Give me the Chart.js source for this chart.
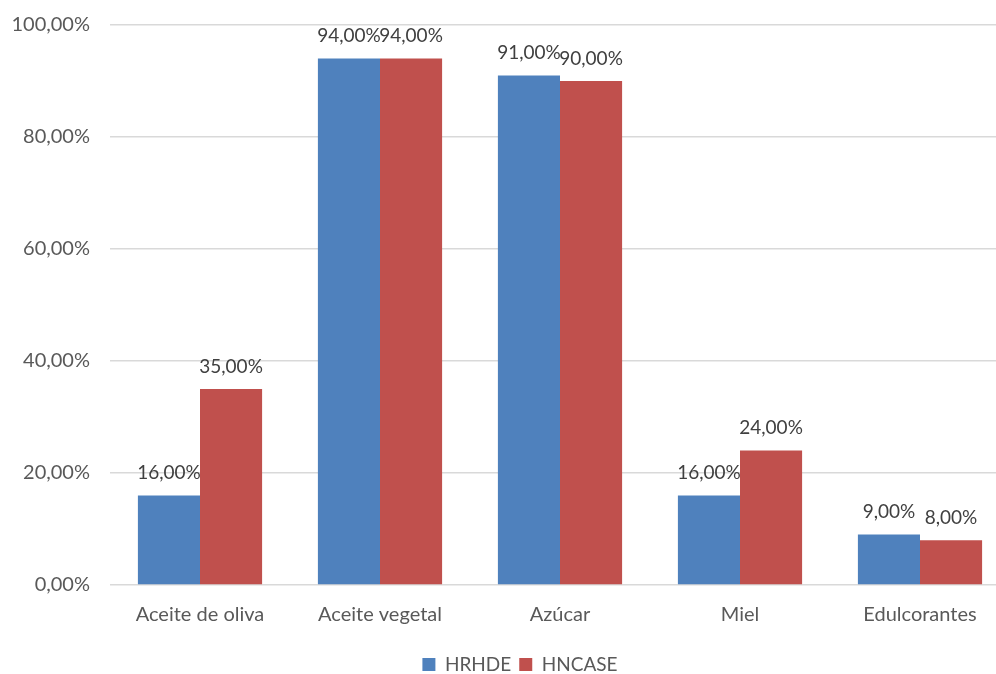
<!DOCTYPE html>
<html>
<head>
<meta charset="utf-8">
<script src="https://cdn.jsdelivr.net/npm/chart.js@4/dist/chart.umd.min.js"></script>
<style>
  html, body { margin: 0; padding: 0; background: #fff; overflow: hidden; }
  #wrap { width: 1010px; height: 674px; position: relative; }
</style>
</head>
<body>
<div id="wrap"><canvas id="c"></canvas></div>
<script>
const categories = ['Aceite de oliva', 'Aceite vegetal', 'Azúcar', 'Miel', 'Edulcorantes'];
const hrhde = [16, 94, 91, 16, 9];
const hncase = [35, 94, 90, 24, 8];
const yTicks = [0, 20, 40, 60, 80, 100];

const FONT = 'Lato, "Open Sans", sans-serif';
const pct = v => v.toFixed(2).replace('.', ',') + '%';

// Value labels written above each bar
const barLabels = {
  id: 'barLabels',
  afterDatasetsDraw(chart) {
    const ctx = chart.ctx;
    ctx.save();
    ctx.font = '19px ' + FONT;
    ctx.fillStyle = '#404040';
    ctx.textAlign = 'center';
    ctx.textBaseline = 'bottom';
    chart.data.datasets.forEach((ds, i) => {
      chart.getDatasetMeta(i).data.forEach((bar, j) => {
        ctx.fillText(pct(ds.data[j]), bar.x, bar.y - 13);
      });
    });
    ctx.restore();
  }
};

// Nudge the legend row to sit lower and slightly right of centre
const legendShift = {
  id: 'legendShift',
  afterLayout(chart) {
    const lg = chart.legend;
    if (!lg) return;
    lg.top += 10; lg.bottom += 10;
    lg.left += 15; lg.right += 15;
  }
};

new Chart(document.getElementById('c'), {
  type: 'bar',
  data: {
    labels: categories,
    datasets: [
      { label: 'HRHDE', data: hrhde, backgroundColor: '#4F81BD' },
      { label: 'HNCASE', data: hncase, backgroundColor: '#C0504D' }
    ]
  },
  options: {
    responsive: true,
    maintainAspectRatio: false,
    animation: false,
    layout: { padding: { top: 25, right: 0, left: 0, bottom: 0 } },
    datasets: { bar: { categoryPercentage: 0.69, barPercentage: 1.0 } },
    plugins: {
      legend: {
        position: 'bottom',
        labels: {
          font: { family: FONT, size: 19 },
          color: '#595959',
          boxWidth: 13,
          boxHeight: 13,
          padding: 8
        }
      },
      tooltip: { enabled: false }
    },
    scales: {
      x: {
        grid: { display: false },
        border: { display: false },
        ticks: { font: { family: FONT, size: 20 }, color: '#595959', padding: 10 },
        afterFit(s) { s.height = 52; }
      },
      y: {
        min: 0,
        max: 100,
        afterBuildTicks(s) { s.ticks = yTicks.map(v => ({ value: v })); },
        grid: { color: '#D9D9D9', lineWidth: 1.5, drawTicks: false },
        border: { display: false },
        ticks: {
          font: { family: FONT, size: 20 },
          color: '#595959',
          padding: 20,
          callback: v => pct(v)
        },
        afterFit(s) {
          s.width = 110;
          s.paddingTop = 0;
          s.paddingBottom = 0;
        }
      }
    }
  },
  plugins: [barLabels, legendShift]
});
</script>
</body>
</html>
